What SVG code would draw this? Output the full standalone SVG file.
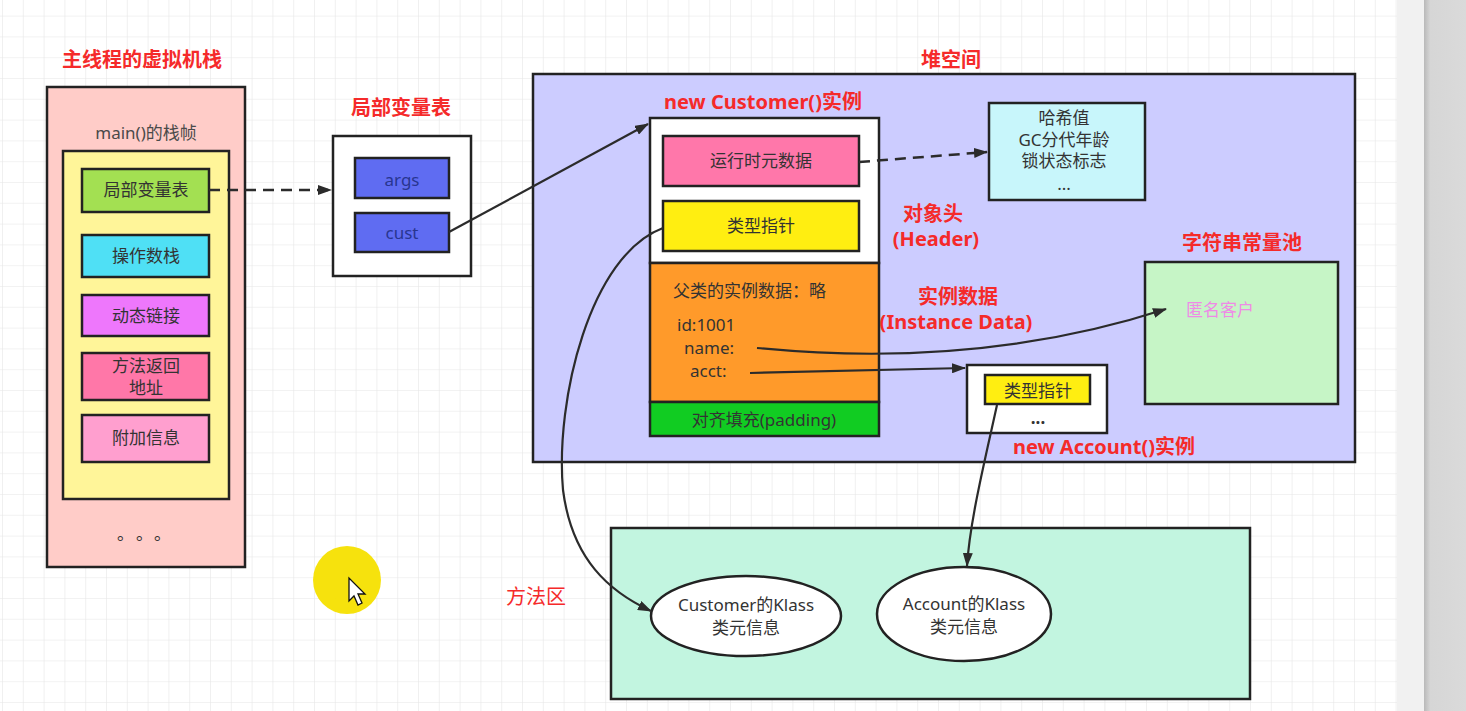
<svg xmlns="http://www.w3.org/2000/svg" width="1466" height="711" viewBox="0 0 1466 711">
<style>
text{font-family:"Noto Sans","Noto Sans CJK SC",sans-serif;text-anchor:middle}
.t{font-size:17px;fill:#333}
.r{font-size:20px;font-weight:bold;fill:#f52a2a}
.s{text-anchor:start}
.nb{font-weight:normal}
.blue{fill:#283590}
.pink{fill:#ef8ae6}
.gray{fill:#4a4a4a}
.b{stroke:#222;stroke-width:2.5}
.c{fill:none;stroke:#2b2b2b;stroke-width:2.2}
.d{fill:none;stroke:#2b2b2b;stroke-width:2.5;stroke-dasharray:11,7}
</style>
<defs>
<pattern id="g" x="2" y="15.6" width="20.8" height="20.8" patternUnits="userSpaceOnUse">
<path d="M0,0H20.8M0,0V20.8" stroke="#e6e6e6" stroke-width="1.2" fill="none"/>
</pattern>
<marker id="a" viewBox="0 0 14 10" refX="13" refY="5" markerWidth="14" markerHeight="10" markerUnits="userSpaceOnUse" orient="auto">
<path d="M0,0L14,5L0,10Z" fill="#2b2b2b"/>
</marker>
<linearGradient id="sh" x1="0" x2="1"><stop offset="0" stop-color="#b9b9b9"/><stop offset="0.15" stop-color="#d6d6d6"/><stop offset="1" stop-color="#dadada"/></linearGradient>
</defs>
<rect width="1466" height="711" fill="#fff"/>
<rect width="1397" height="711" fill="url(#g)"/>
<rect x="1397" width="27" height="711" fill="#f1f1f1"/>
<rect x="1424" width="42" height="711" fill="url(#sh)"/>

<g id="stack">
<text class="r" x="142" y="67">主线程的虚拟机栈</text>
<rect class="b" x="47" y="87" width="198" height="480" fill="#ffccc8"/>
<text class="t gray" x="146" y="139">main()的栈帧</text>
<rect class="b" x="63" y="151" width="166" height="348" fill="#fff599"/>
<rect class="b" x="82" y="169" width="127" height="43" fill="#a3e052"/>
<text class="t" x="146" y="196">局部变量表</text>
<rect class="b" x="82" y="235" width="127" height="42" fill="#4fe0f5"/>
<text class="t" x="146" y="262">操作数栈</text>
<rect class="b" x="82" y="295" width="127" height="41" fill="#ee77fc"/>
<text class="t" x="146" y="322">动态链接</text>
<rect class="b" x="82" y="353" width="127" height="47" fill="#ff77a8"/>
<text class="t" x="146" y="372">方法返回</text>
<text class="t" x="146" y="394">地址</text>
<rect class="b" x="82" y="415" width="127" height="47" fill="#ff9fcf"/>
<text class="t" x="146" y="444">附加信息</text>
<text class="t s" x="117 136 154" y="540" font-size="16">。。。</text>
</g>

<g id="localvars">
<text class="r" x="401" y="115">局部变量表</text>
<rect class="b" x="333" y="136" width="138" height="140" fill="#fff"/>
<rect class="b" x="355" y="158" width="94" height="40" fill="#5f6cf2"/>
<text class="t blue" x="402" y="186">args</text>
<rect class="b" x="355" y="213" width="94" height="39" fill="#5f6cf2"/>
<text class="t blue" x="402" y="239">cust</text>
</g>

<g id="heap">
<text class="r" x="951" y="67">堆空间</text>
<rect class="b" x="533" y="74" width="822" height="388" fill="#ccccff"/>
</g>

<g id="customer">
<text class="r" x="763" y="109">new Customer()实例</text>
<rect class="b" x="650" y="118" width="229" height="145" fill="#fff"/>
<rect class="b" x="663" y="136" width="196" height="50" fill="#ff77aa"/>
<text class="t" x="761" y="167">运行时元数据</text>
<rect class="b" x="663" y="201" width="196" height="50" fill="#ffee11"/>
<text class="t" x="761" y="232">类型指针</text>
<rect class="b" x="650" y="263" width="229" height="139" fill="#ff9a2a"/>
<text class="t s" x="673" y="297">父类的实例数据：略</text>
<text class="t s" x="677" y="331">id:1001</text>
<text class="t s" x="684" y="354">name:</text>
<text class="t s" x="690" y="377">acct:</text>
<rect class="b" x="650" y="402" width="229" height="34" fill="#11cc22"/>
<text class="t" x="764" y="426">对齐填充(padding)</text>
<text class="r" x="933" y="221">对象头</text>
<text class="r" x="936" y="246">(Header)</text>
<text class="r" x="958" y="304">实例数据</text>
<text class="r" x="956" y="329">(Instance Data)</text>
</g>

<g id="markword">
<rect class="b" x="989" y="103" width="156" height="97" fill="#c8f6fb"/>
<text class="t" x="1064" y="124">哈希值</text>
<text class="t" x="1064" y="146">GC分代年龄</text>
<text class="t" x="1064" y="167">锁状态标志</text>
<text class="t" x="1064" y="190">...</text>
</g>

<g id="stringpool">
<text class="r" x="1242" y="250">字符串常量池</text>
<rect class="b" x="1145" y="262" width="193" height="142" fill="#c6f5c6"/>
<text class="t pink" x="1220" y="316">匿名客户</text>
</g>

<g id="account">
<rect class="b" x="967" y="365" width="140" height="68" fill="#fff"/>
<rect class="b" x="985" y="375" width="105" height="29" fill="#ffee11"/>
<text class="t" x="1038" y="397">类型指针</text>
<text class="t" x="1038" y="424" font-weight="bold">...</text>
<text class="r" x="1104" y="454">new Account()实例</text>
</g>

<g id="methodarea">
<text class="r nb" x="536" y="604">方法区</text>
<rect class="b" x="611" y="528" width="639" height="171" fill="#c2f5e0"/>
</g>

<g id="customerKlass">
<ellipse class="b" cx="746" cy="616" rx="95" ry="40" fill="#fff"/>
<text class="t" x="746" y="611">Customer的Klass</text>
<text class="t" x="746" y="634">类元信息</text>
</g>

<g id="accountKlass">
<ellipse class="b" cx="964" cy="614" rx="87" ry="47" fill="#fff"/>
<text class="t" x="964" y="610">Account的Klass</text>
<text class="t" x="964" y="633">类元信息</text>
</g>

<g id="connectors">
<path class="d" d="M209,190H331" marker-end="url(#a)"/>
<path class="c" d="M449,232L648,124" marker-end="url(#a)"/>
<path class="d" d="M859,162L987,152" marker-end="url(#a)"/>
<path class="c" d="M757,348C900,362 1040,350 1166,309" marker-end="url(#a)"/>
<path class="c" d="M750,373L965,368" marker-end="url(#a)"/>
<path class="c" d="M663,228C590,255 555,400 563,490C572,560 610,592 651,611" marker-end="url(#a)"/>
<path class="c" d="M997,405C985,460 970,520 967,566" marker-end="url(#a)"/>
</g>

<g id="cursor">
<circle cx="347" cy="580" r="34" fill="#f5e000" opacity="0.95"/>
<path d="M349,578V601L354,596L358,605L362,603L358,594H365Z" fill="#fff" stroke="#111" stroke-width="1.3"/>
</g>
</svg>
